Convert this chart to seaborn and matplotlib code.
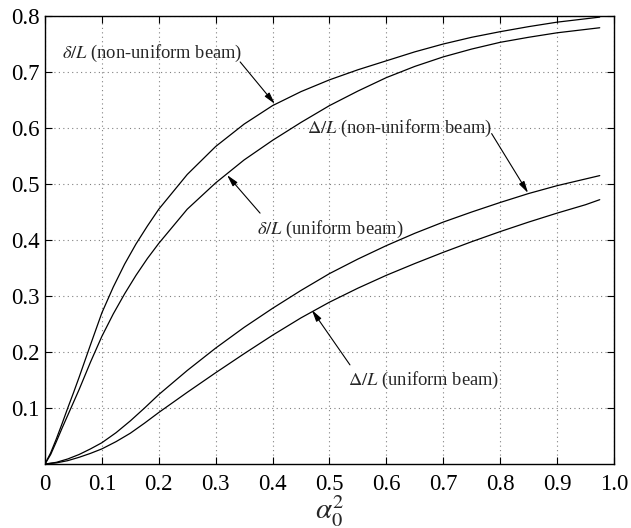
import numpy as np
import pandas as pd
import matplotlib
matplotlib.use("Agg")
import matplotlib.pyplot as plt
import seaborn as sns

# ---- data ----
x_delta = [0, 0.01, 0.02, 0.03, 0.04, 0.05, 0.06, 0.08, 0.10, 0.12, 0.14, 0.16, 0.18, 0.20,
           0.25, 0.30, 0.35, 0.40, 0.45, 0.50, 0.55, 0.60, 0.65, 0.70, 0.75, 0.80, 0.85,
           0.90, 0.95, 0.975]
delta_nonuniform = [0, 0.02, 0.045, 0.072, 0.10, 0.127, 0.155, 0.213, 0.27, 0.316, 0.357,
                    0.393, 0.425, 0.455, 0.517, 0.567, 0.607, 0.64, 0.665, 0.686, 0.704,
                    0.72, 0.736, 0.75, 0.762, 0.772, 0.781, 0.789, 0.795, 0.798]
delta_uniform = [0, 0.017, 0.04, 0.064, 0.087, 0.11, 0.133, 0.182, 0.228, 0.268, 0.304,
                 0.337, 0.367, 0.394, 0.455, 0.502, 0.543, 0.578, 0.61, 0.64, 0.666,
                 0.69, 0.71, 0.727, 0.741, 0.753, 0.762, 0.77, 0.776, 0.779]

x_Delta = [0, 0.02, 0.04, 0.06, 0.08, 0.10, 0.125, 0.15, 0.175, 0.20, 0.25, 0.30, 0.35,
           0.40, 0.45, 0.50, 0.55, 0.60, 0.65, 0.70, 0.75, 0.80, 0.85, 0.90, 0.95, 0.975]
Delta_nonuniform = [0, 0.003, 0.009, 0.017, 0.027, 0.038, 0.056, 0.077, 0.1, 0.124,
                    0.167, 0.207, 0.244, 0.278, 0.31, 0.34, 0.366, 0.39, 0.412, 0.432,
                    0.45, 0.467, 0.483, 0.497, 0.509, 0.515]
Delta_uniform = [0, 0.002, 0.006, 0.012, 0.019, 0.027, 0.04, 0.055, 0.073, 0.092, 0.128,
                 0.163, 0.197, 0.23, 0.261, 0.289, 0.314, 0.337, 0.358, 0.378, 0.397,
                 0.415, 0.432, 0.448, 0.463, 0.472]

x_ticks = [0, 0.1, 0.2, 0.3, 0.4, 0.5, 0.6, 0.7, 0.8, 0.9, 1.0]
x_ticklabels = ["0", "0.1", "0.2", "0.3", "0.4", "0.5", "0.6", "0.7", "0.8", "0.9", "1.0"]
y_ticks = [0.1, 0.2, 0.3, 0.4, 0.5, 0.6, 0.7, 0.8]
y_ticklabels = ["0.1", "0.2", "0.3", "0.4", "0.5", "0.6", "0.7", "0.8"]

labels = [r"$\delta/L$ (non-uniform beam)", r"$\delta/L$ (uniform beam)",
          r"$\Delta/L$ (non-uniform beam)", r"$\Delta/L$ (uniform beam)"]

# ---- build long table ----
frames = []
for name, xs, ys in [("d_nu", x_delta, delta_nonuniform),
                     ("d_u", x_delta, delta_uniform),
                     ("D_nu", x_Delta, Delta_nonuniform),
                     ("D_u", x_Delta, Delta_uniform)]:
    frames.append(pd.DataFrame({"x": xs, "y": ys, "series": name}))
df = pd.concat(frames, ignore_index=True)

sns.set_style("ticks")
plt.rcParams["font.family"] = ["Liberation Serif", "DejaVu Serif"]
plt.rcParams["mathtext.fontset"] = "stix"

fig = plt.figure(figsize=(6.31, 5.28), dpi=100)
ax = fig.add_axes([0.0713, 0.1212, 0.9017, 0.8485])

sns.lineplot(data=df, x="x", y="y", hue="series", units="series", estimator=None,
             palette=["black"] * 4, legend=False, linewidth=0.9, ax=ax, sort=False)

ax.set_xlim(0, 1.0)
ax.set_ylim(0, 0.8)
ax.set_xticks(x_ticks)
ax.set_xticklabels(x_ticklabels)
ax.set_yticks(y_ticks)
ax.set_yticklabels(y_ticklabels)
ax.tick_params(direction="in", top=True, right=True, length=5, width=0.8,
               labelsize=16.5, colors="black")
ax.tick_params(axis="y", pad=4)
ax.tick_params(axis="x", pad=7)
for s in ax.spines.values():
    s.set_linewidth(1.0)
    s.set_color("black")
ax.grid(True, linestyle=(0, (1, 3)), color="0.5", linewidth=0.8)
ax.set_xlabel(r"$\alpha_0^2$", fontsize=21, labelpad=-1)
ax.set_ylabel("")

# ---- annotations ----
tsize = 13.3
arrow = dict(arrowstyle="-|>,head_length=0.7,head_width=0.18", lw=0.8, color="black",
             shrinkA=0, shrinkB=0)
ax.text(0.03, 0.734, labels[0], fontsize=tsize, ha="left", va="center")
ax.annotate("", xy=(0.404, 0.643), xytext=(0.343, 0.718), arrowprops=arrow)

ax.text(0.373, 0.418, labels[1], fontsize=tsize, ha="left", va="center")
ax.annotate("", xy=(0.32, 0.516), xytext=(0.378, 0.448), arrowprops=arrow)

ax.text(0.46, 0.60, labels[2], fontsize=tsize, ha="left", va="center")
ax.annotate("", xy=(0.849, 0.484), xytext=(0.785, 0.59), arrowprops=arrow)

ax.text(0.533, 0.15, labels[3], fontsize=tsize, ha="left", va="center")
ax.annotate("", xy=(0.469, 0.275), xytext=(0.536, 0.177), arrowprops=arrow)

fig.savefig("out.png", dpi=100)
